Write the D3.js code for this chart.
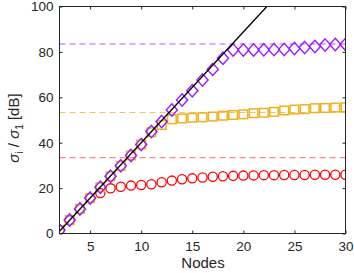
<!DOCTYPE html>
<html><head><meta charset="utf-8">
<script src="https://cdn.jsdelivr.net/npm/d3@7"></script>
<style>body{margin:0;background:#fff}svg{display:block}</style>
</head><body>
<svg id="c" width="354" height="273"></svg>
<script>
const nodes = d3.range(2, 31);
const redVals = [1.5,5.9,10.8,15.6,17.8,19.9,20.6,21.1,21.4,21.7,22.6,23.3,23.9,24.3,24.7,25.0,25.2,25.4,25.5,25.6,25.7,25.7,25.8,25.8,25.8,25.9,25.9,25.9,25.9];
const yellowVals = [1.5,5.9,10.8,15.6,20.4,25.2,29.8,34.4,39.2,44.6,47.8,50.3,50.7,51.0,51.2,51.5,51.9,52.2,52.5,53.0,53.2,53.6,54.2,54.6,54.8,55.2,55.3,55.5,55.6];
const purpleVals = [1.5,5.9,10.8,15.6,20.4,25.2,29.8,34.4,39.2,44.9,49.3,54.4,58.8,62.9,67.6,72.3,77.2,80.8,80.8,80.8,80.9,81.0,81.1,81.5,81.9,82.4,83.0,83.3,83.3];
const limitVals = {red:33.4, yellow:53.3, purple:83.5};
const lineX = [2, 22.3];
const lineY = [1, 100];
const xTicks = [5,10,15,20,25,30];
const yTicks = [0,20,40,60,80,100];

const svg = d3.select("#c");
const L=59.5, R=345.5, T=6.5, B=233.5;
const x = d3.scaleLinear().domain([2,30]).range([L,R]);
const y = d3.scaleLinear().domain([0,100]).range([B,T]);
const axisCol = "#262626";
const font = "'Liberation Sans', Arial, sans-serif";

svg.append("defs").append("clipPath").attr("id","clip")
  .append("rect").attr("x",L).attr("y",T).attr("width",R-L).attr("height",B-T);

const lim = [["#ff0000",limitVals.red,0.6],["#edb120",limitVals.yellow,0.75],["#a020f0",limitVals.purple,0.75]];
lim.forEach(([c,v,o])=>{
  svg.append("line").attr("x1",L).attr("x2",R).attr("y1",y(v)).attr("y2",y(v))
    .attr("stroke",c).attr("stroke-opacity",o).attr("stroke-width",1).attr("stroke-dasharray","6,4");
});

const g = svg.append("g").attr("clip-path","url(#clip)");
g.selectAll(".r").data(nodes).enter().append("circle")
  .attr("cx",d=>x(d)).attr("cy",(d,i)=>y(redVals[i])).attr("r",4.6)
  .attr("fill","none").attr("stroke","#ff0000").attr("stroke-width",1.3);
g.selectAll(".s").data(nodes).enter().append("rect")
  .attr("x",d=>x(d)-4.3).attr("y",(d,i)=>y(yellowVals[i])-4.3).attr("width",8.6).attr("height",8.6)
  .attr("fill","none").attr("stroke","#edb120").attr("stroke-width",1.5);
g.selectAll(".d").data(nodes).enter().append("path")
  .attr("d",(d,i)=>{const cx=x(d), cy=y(purpleVals[i]), w=5.6, h=6.2;
    return `M${cx},${cy-h}L${cx+w},${cy}L${cx},${cy+h}L${cx-w},${cy}Z`;})
  .attr("fill","none").attr("stroke","#9b1cff").attr("stroke-width",1.4);
g.append("path").datum(lineX.map((v,i)=>[v,lineY[i]]))
  .attr("d",d3.line().x(d=>x(d[0])).y(d=>y(d[1])))
  .attr("stroke","#000").attr("stroke-width",1.3).attr("fill","none");

svg.append("rect").attr("x",L).attr("y",T).attr("width",R-L).attr("height",B-T)
  .attr("fill","none").attr("stroke",axisCol).attr("stroke-width",1);

svg.append("g").attr("transform",`translate(0,${B})`)
  .call(d3.axisBottom(x).tickValues(xTicks).tickSizeInner(-3).tickSizeOuter(0).tickPadding(8));
svg.append("g").attr("transform",`translate(${L},0)`)
  .call(d3.axisLeft(y).tickValues(yTicks).tickSizeInner(-3).tickSizeOuter(0).tickPadding(6));
svg.append("g").attr("transform",`translate(0,${T})`)
  .call(d3.axisTop(x).tickValues(xTicks).tickSizeInner(-3).tickSizeOuter(0)).selectAll("text").remove();
svg.append("g").attr("transform",`translate(${R},0)`)
  .call(d3.axisRight(y).tickValues(yTicks).tickSizeInner(-3).tickSizeOuter(0)).selectAll("text").remove();
svg.selectAll(".domain").remove();
svg.selectAll(".tick line").attr("stroke",axisCol);
svg.selectAll(".tick text").attr("fill",axisCol).style("font-family",font).style("font-size","13.5px");

svg.append("text").attr("x",203).attr("y",268).attr("text-anchor","middle")
  .style("font-family",font).style("font-size","15px").attr("fill",axisCol).text("Nodes");

const yl = svg.append("text").attr("transform","translate(19,128) rotate(-90)").attr("text-anchor","middle")
  .style("font-family",font).style("font-size","15px").attr("fill",axisCol);
yl.append("tspan").style("font-style","italic").text("σ");
yl.append("tspan").attr("dy",4).style("font-size","10px").text("i");
yl.append("tspan").attr("dy",-4).text(" / ");
yl.append("tspan").style("font-style","italic").text("σ");
yl.append("tspan").attr("dy",4).style("font-size","10px").text("1");
yl.append("tspan").attr("dy",-4).text(" [dB]");
</script>
</body></html>
